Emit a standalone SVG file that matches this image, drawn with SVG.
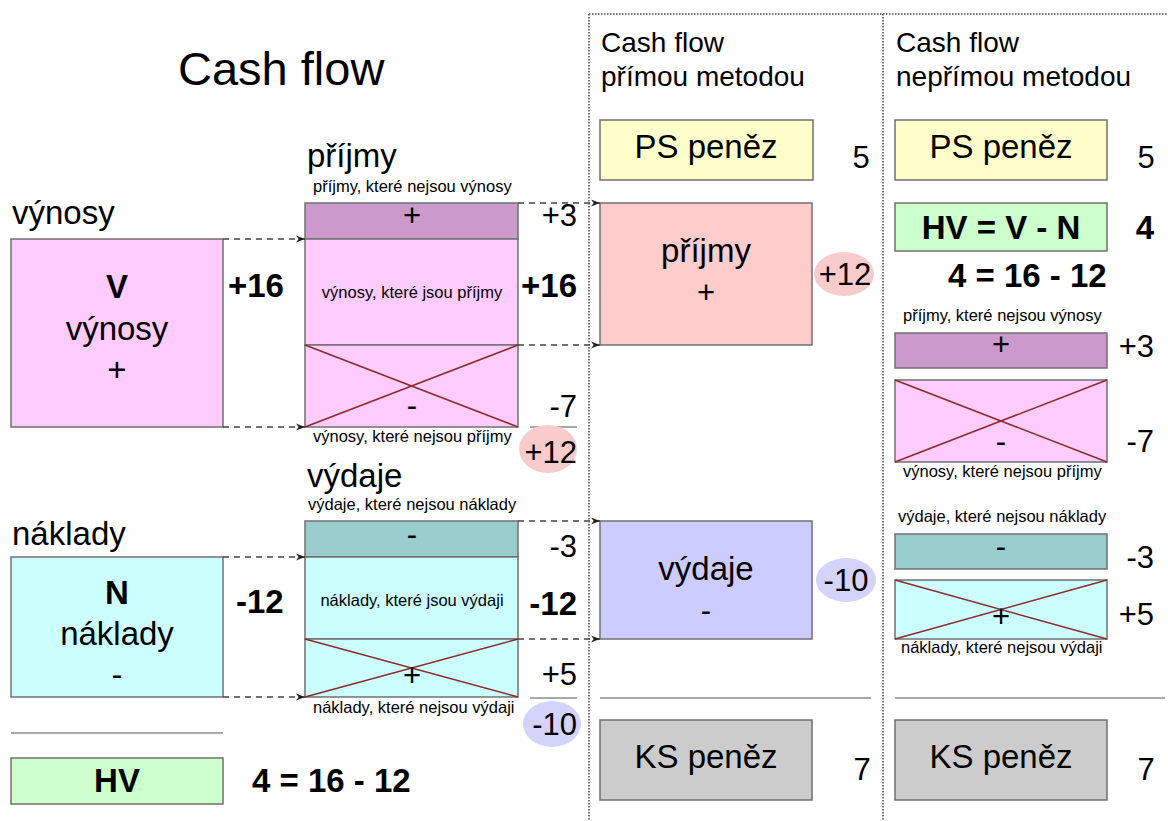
<svg xmlns="http://www.w3.org/2000/svg" width="1168" height="821" viewBox="0 0 1168 821">
<style>
text{font-family:"Liberation Sans",Arial,sans-serif;fill:#000}
.b{stroke:#707070;stroke-width:1.5}
.x{stroke:#8b2a2a;stroke-width:1.5}
.sep{stroke:#555;stroke-width:1.2}
.dash{stroke:#444;stroke-width:1.5;stroke-dasharray:6,5;fill:none}
.dot{stroke:#777;stroke-width:2;stroke-dasharray:1.5,1.5;fill:none}
.s{font-size:16.5px}
.m{font-size:31px}
.l{font-size:33px}
.h{font-size:28px}
.c{text-anchor:middle}
.e{text-anchor:end}
.bo{font-weight:bold}
</style>
<defs>
<marker id="ah" viewBox="0 0 10 10" refX="10" refY="5" markerWidth="9" markerHeight="9" markerUnits="userSpaceOnUse" orient="auto"><path d="M0,1 L10,5 L0,9 L3,5 Z" fill="#222"/></marker>
</defs>

<rect width="1168" height="821" fill="#fff"/>

<g id="frame">
<line class="dot" x1="589" y1="14" x2="1168" y2="14"/>
<line class="dot" x1="589" y1="14" x2="589" y2="821"/>
<line class="dot" x1="883" y1="14" x2="883" y2="821"/>
</g>

<text x="178" y="85" style="font-size:47px">Cash flow</text>

<g id="left-V">
<text x="12" y="224" class="l">výnosy</text>
<rect x="11" y="239" width="212" height="188" fill="#ffccff" class="b"/>
<text x="117" y="298" class="l c bo">V</text>
<text x="117" y="340" class="l c">výnosy</text>
<text x="117" y="381" class="l c">+</text>
<text x="228" y="297" class="l bo">+16</text>
</g>

<g id="left-N">
<text x="12" y="545" class="l">náklady</text>
<rect x="11" y="557" width="212" height="140" fill="#ccffff" class="b"/>
<text x="117" y="604" class="l c bo">N</text>
<text x="117" y="645" class="l c">náklady</text>
<text x="117" y="686" class="l c">-</text>
<text x="236" y="613" class="l bo">-12</text>
</g>

<g id="left-HV">
<line x1="11" y1="733" x2="223" y2="733" class="sep"/>
<rect x="11" y="758" width="212" height="46" fill="#ccffcc" class="b"/>
<text x="117" y="792" class="l c bo">HV</text>
<text x="252" y="792" class="l bo">4 = 16 - 12</text>
</g>

<g id="mid-prijmy">
<text x="307" y="167" class="l">příjmy</text>
<text x="313" y="192" class="s">příjmy, které nejsou výnosy</text>
<rect x="305" y="203" width="213" height="36" fill="#cc99cc" class="b"/>
<rect x="305" y="239" width="213" height="106" fill="#ffccff" class="b"/>
<rect x="305" y="345" width="213" height="82" fill="#ffccff" class="b"/>
<line x1="305" y1="345" x2="518" y2="427" class="x"/>
<line x1="305" y1="427" x2="518" y2="345" class="x"/>
<text x="412" y="226" class="m c">+</text>
<text x="412" y="298" class="s c">výnosy, které jsou příjmy</text>
<text x="412" y="416" class="m c">-</text>
<text x="313" y="442" class="s">výnosy, které nejsou příjmy</text>
<text x="577" y="226" class="m e">+3</text>
<text x="577" y="297" class="l bo e">+16</text>
<text x="577" y="417" class="m e">-7</text>
<line x1="530" y1="427" x2="577" y2="427" class="sep"/>
<ellipse cx="548" cy="449" rx="29" ry="24" fill="#f9cccc"/>
<text x="577" y="463" class="m e">+12</text>
</g>

<g id="mid-vydaje">
<text x="307" y="487" class="l">výdaje</text>
<text x="308" y="510" class="s">výdaje, které nejsou náklady</text>
<rect x="305" y="521" width="213" height="36" fill="#99cccc" class="b"/>
<rect x="305" y="557" width="213" height="82" fill="#ccffff" class="b"/>
<rect x="305" y="639" width="213" height="58" fill="#ccffff" class="b"/>
<line x1="305" y1="639" x2="518" y2="697" class="x"/>
<line x1="305" y1="697" x2="518" y2="639" class="x"/>
<text x="412" y="545" class="m c">-</text>
<text x="412" y="606" class="s c">náklady, které jsou výdaji</text>
<text x="412" y="686" class="m c">+</text>
<text x="313" y="713" class="s">náklady, které nejsou výdaji</text>
<text x="577" y="557" class="m e">-3</text>
<text x="577" y="615" class="l bo e">-12</text>
<text x="577" y="685" class="m e">+5</text>
<line x1="530" y1="698" x2="577" y2="698" class="sep"/>
<ellipse cx="552" cy="724" rx="29" ry="23" fill="#d4d4fa"/>
<text x="577" y="735" class="m e">-10</text>
</g>

<g id="direct">
<text x="601" y="52" class="h">Cash flow</text>
<text x="601" y="86" class="h">přímou metodou</text>
<rect x="600" y="120" width="213" height="60" fill="#ffffcc" class="b"/>
<text x="706" y="158" class="l c">PS peněz</text>
<text x="861" y="168" class="m c">5</text>
<rect x="600" y="203" width="212" height="142" fill="#ffcccc" class="b"/>
<text x="706" y="262" class="l c">příjmy</text>
<text x="706" y="303" class="m c">+</text>
<ellipse cx="844" cy="274" rx="30" ry="22" fill="#f9cccc"/>
<text x="845" y="285" class="m c">+12</text>
<rect x="600" y="521" width="212" height="118" fill="#ccccff" class="b"/>
<text x="706" y="580" class="l c">výdaje</text>
<text x="706" y="621" class="m c">-</text>
<ellipse cx="846" cy="580" rx="30" ry="22" fill="#d4d4fa"/>
<text x="846" y="591" class="m c">-10</text>
<line x1="600" y1="698" x2="871" y2="698" class="sep"/>
<rect x="600" y="720" width="212" height="80" fill="#cccccc" class="b"/>
<text x="706" y="768" class="l c">KS peněz</text>
<text x="862" y="780" class="m c">7</text>
</g>

<g id="indirect">
<text x="896" y="52" class="h">Cash flow</text>
<text x="896" y="86" class="h">nepřímou metodou</text>
<rect x="895" y="120" width="212" height="60" fill="#ffffcc" class="b"/>
<text x="1001" y="158" class="l c">PS peněz</text>
<text x="1146" y="168" class="m c">5</text>
<rect x="895" y="203" width="212" height="48" fill="#ccffcc" class="b"/>
<text x="1001" y="239" class="l c bo">HV = V - N</text>
<text x="1145" y="239" class="l c bo">4</text>
<text x="948" y="287" class="l bo">4 = 16 - 12</text>
<text x="903" y="321" class="s">příjmy, které nejsou výnosy</text>
<rect x="895" y="333" width="212" height="35" fill="#cc99cc" class="b"/>
<text x="1001" y="355" class="m c">+</text>
<text x="1154" y="357" class="m e">+3</text>
<rect x="895" y="380" width="212" height="82" fill="#ffccff" class="b"/>
<line x1="895" y1="380" x2="1107" y2="462" class="x"/>
<line x1="895" y1="462" x2="1107" y2="380" class="x"/>
<text x="1001" y="452" class="m c">-</text>
<text x="1154" y="452" class="m e">-7</text>
<text x="903" y="477" class="s">výnosy, které nejsou příjmy</text>
<text x="898" y="522" class="s">výdaje, které nejsou náklady</text>
<rect x="895" y="534" width="212" height="35" fill="#99cccc" class="b"/>
<text x="1001" y="557" class="m c">-</text>
<text x="1154" y="568" class="m e">-3</text>
<rect x="895" y="580" width="212" height="59" fill="#ccffff" class="b"/>
<line x1="895" y1="580" x2="1107" y2="639" class="x"/>
<line x1="895" y1="639" x2="1107" y2="580" class="x"/>
<text x="1001" y="627" class="m c">+</text>
<text x="1154" y="625" class="m e">+5</text>
<text x="901" y="653" class="s">náklady, které nejsou výdaji</text>
<line x1="895" y1="698" x2="1165" y2="698" class="sep"/>
<rect x="895" y="720" width="212" height="80" fill="#cccccc" class="b"/>
<text x="1001" y="768" class="l c">KS peněz</text>
<text x="1146" y="780" class="m c">7</text>
</g>

<g id="connectors">
<line class="dash" x1="223" y1="239" x2="305" y2="239" marker-end="url(#ah)"/>
<line class="dash" x1="223" y1="427" x2="305" y2="427" marker-end="url(#ah)"/>
<line class="dash" x1="223" y1="557" x2="305" y2="557" marker-end="url(#ah)"/>
<line class="dash" x1="223" y1="697" x2="305" y2="697" marker-end="url(#ah)"/>
<line class="dash" x1="518" y1="203" x2="600" y2="203" marker-end="url(#ah)"/>
<line class="dash" x1="518" y1="345" x2="600" y2="345" marker-end="url(#ah)"/>
<line class="dash" x1="518" y1="521" x2="600" y2="521" marker-end="url(#ah)"/>
<line class="dash" x1="518" y1="639" x2="600" y2="639" marker-end="url(#ah)"/>
</g>
</svg>
